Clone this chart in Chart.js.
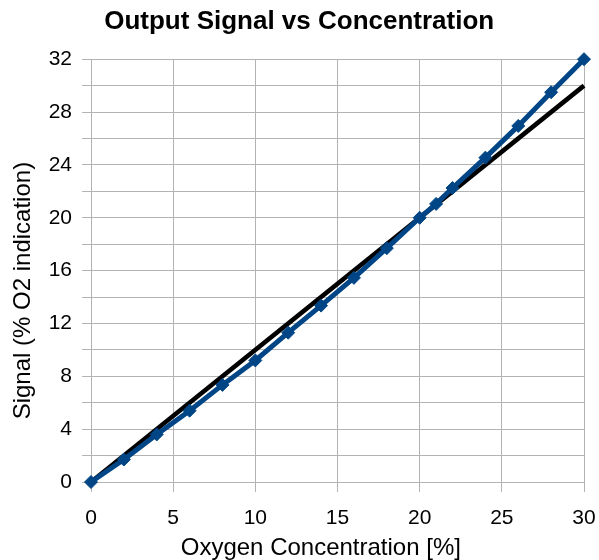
<!DOCTYPE html>
<html>
<head>
<meta charset="utf-8">
<title>Output Signal vs Concentration</title>
<script src="https://cdn.jsdelivr.net/npm/chart.js@4.4.1/dist/chart.umd.min.js"></script>
<style>
  body { margin: 0; background: #fff; }
  #chart { display: block; }
</style>
</head>
<body>
<canvas id="chart" width="599" height="560"></canvas>
<script>
// oxygen concentration steps [%]
const concentration = [0, 2, 4, 6, 8, 10, 12, 14, 16, 18, 20, 21, 22, 24, 26, 28, 30];
// measured signal (% O2 indication)
const signal = [0, 1.7, 3.6, 5.4, 7.35, 9.2, 11.3, 13.35, 15.45, 17.7, 20.0, 21.05, 22.25, 24.55, 26.95, 29.5, 32];
// ideal 1:1 reference line
const idealX = [0, 30];
const idealY = [0, 30];

const gridGray = '#b3b3b3';
const fontFamily = '"Liberation Sans", Arial, sans-serif';

const toPoints = (xs, ys) => xs.map((x, i) => ({ x, y: ys[i] }));

const ctx = document.getElementById('chart');
new Chart(ctx, {
  type: 'scatter',
  data: {
    datasets: [{
      label: 'Signal',
      data: toPoints(concentration, signal),
      showLine: true,
      borderColor: '#004586',
      backgroundColor: '#004586',
      borderWidth: 5,
      pointStyle: 'rectRot',
      pointRadius: 6.5,
      pointBorderWidth: 1,
      clip: false,
      order: 0
    }, {
      label: 'Ideal',
      data: toPoints(idealX, idealY),
      showLine: true,
      borderColor: '#000000',
      backgroundColor: '#000000',
      borderWidth: 4.5,
      pointRadius: 0,
      clip: false,
      order: 1
    }]
  },
  options: {
    responsive: false,
    animation: false,
    layout: { padding: { left: 0, right: 15, top: 0, bottom: 0 } },
    plugins: {
      legend: { display: false },
      tooltip: { enabled: false },
      title: {
        display: true,
        text: '  Output Signal vs Concentration',
        color: '#000',
        font: { family: fontFamily, size: 26, weight: 'bold' },
        padding: { top: 6, bottom: 22 }
      }
    },
    scales: {
      x: {
        type: 'linear',
        min: 0,
        max: 30,
        afterFit: (scale) => {
          scale.height = 78;
          // let the layout padding decide the right edge, not the last label
          scale.paddingLeft = 0;
          scale.paddingRight = 0;
        },
        ticks: {
          stepSize: 5,
          color: '#000',
          padding: 14,
          font: { family: fontFamily, size: 21 }
        },
        grid: { color: gridGray, tickLength: 10 },
        border: { color: gridGray },
        title: {
          display: true,
          // trailing spaces nudge the title left, like the original
          text: 'Oxygen Concentration [%]     ',
          color: '#000',
          font: { family: fontFamily, size: 24, lineHeight: 1 },
          padding: { top: 0, bottom: 0 }
        }
      },
      y: {
        type: 'linear',
        min: 0,
        max: 32,
        afterFit: (scale) => { scale.width = 91; },
        ticks: {
          stepSize: 2,
          autoSkip: false,
          color: '#000',
          padding: 10,
          font: { family: fontFamily, size: 21 },
          // labels only every 4, gridlines every 2
          callback: (value) => (value % 4 === 0 ? value : '')
        },
        grid: { color: gridGray, tickLength: 9 },
        border: { color: gridGray },
        title: {
          display: true,
          // trailing spaces push the rotated title down a bit
          text: 'Signal (% O2 indication)      ',
          color: '#000',
          font: { family: fontFamily, size: 24, lineHeight: 1 },
          padding: { top: 11, bottom: 0 }
        }
      }
    }
  }
});
</script>
</body>
</html>
